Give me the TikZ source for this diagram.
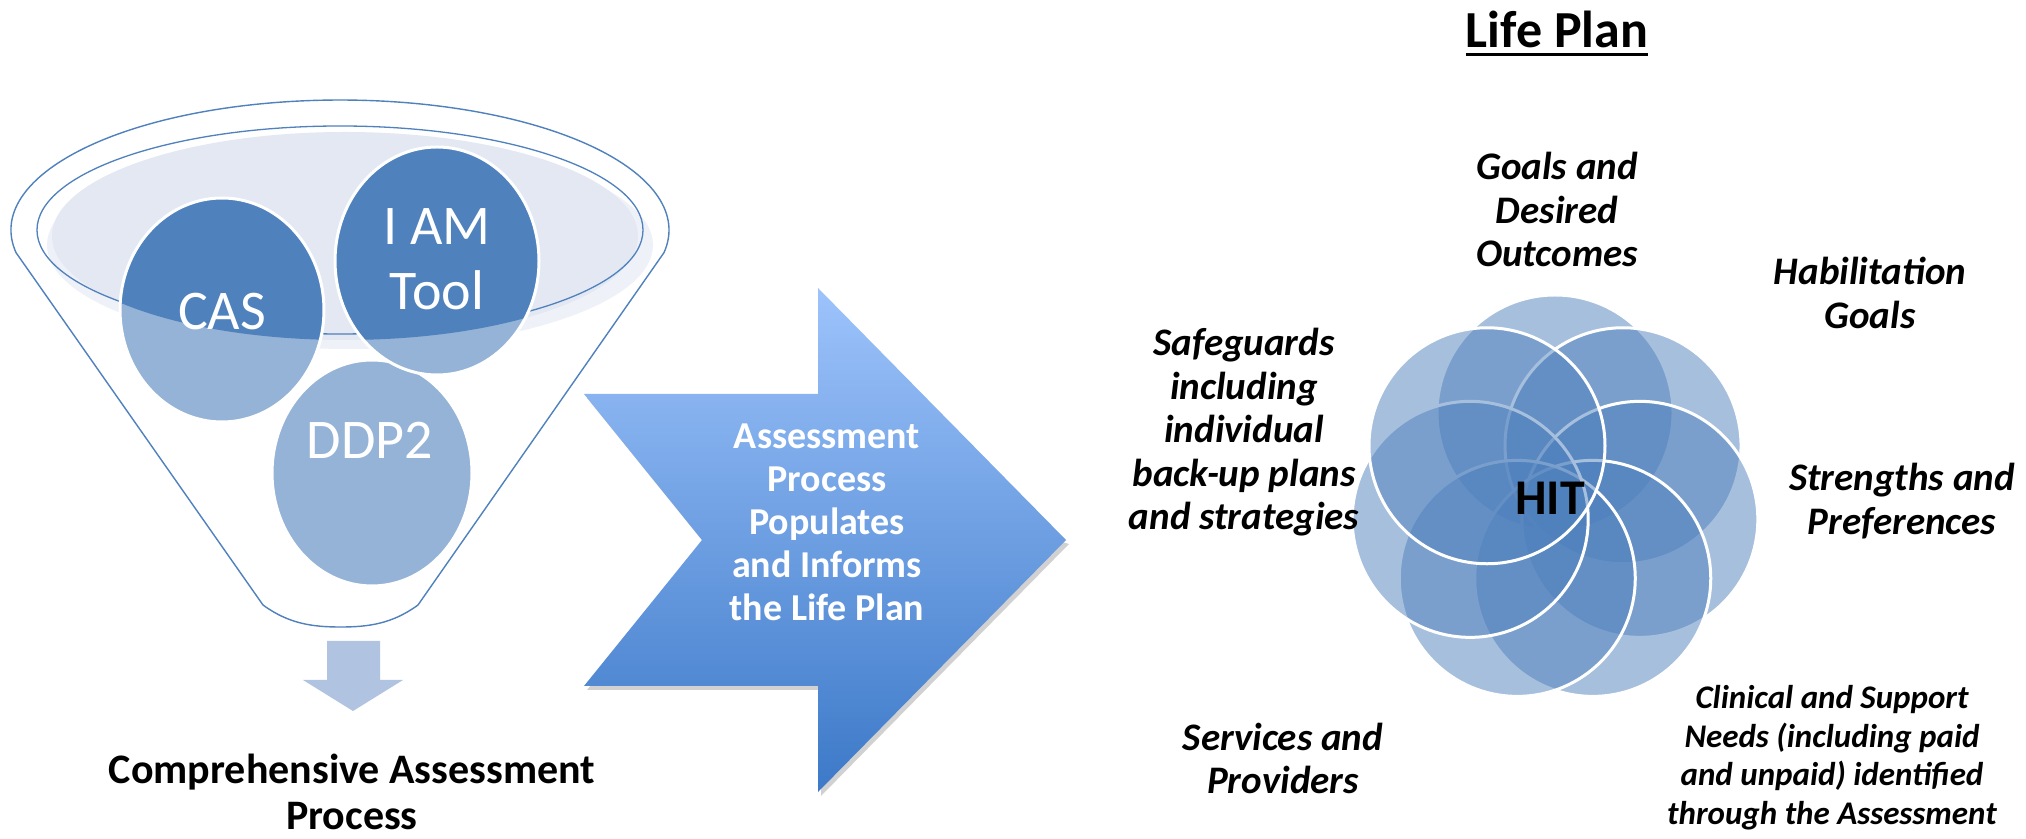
\documentclass[tikz,border=0pt]{standalone}
\usepackage{fontspec}
\setmainfont{Carlito}
\usetikzlibrary{calc}
\definecolor{accent}{HTML}{4F81BD}
\definecolor{accentlt}{HTML}{95B3D7}
\definecolor{funnelfill}{HTML}{E3E8F2}
\definecolor{funnelglow}{HTML}{EEF1F7}
\definecolor{droparrow}{HTML}{B0C3E0}
\definecolor{arrowtop}{HTML}{9DC3FB}
\definecolor{arrowbot}{HTML}{3C79C8}
\begin{document}
\begin{tikzpicture}[x=1pt,y=1pt,
  funnelline/.style={draw=accent, line width=1.4pt, line join=round},
  tooltext/.style={text=white, font=\fontsize{56}{65}\selectfont, align=center, inner sep=0pt},
  petal/.style={fill=accent, fill opacity=0.5, draw=white, draw opacity=1, line width=3pt},
  lbl/.style={font=\fontsize{39}{43.5}\selectfont\bfseries\itshape, align=center, inner sep=0pt, anchor=base},
  smalllbl/.style={font=\fontsize{33}{38.5}\selectfont\bfseries\itshape, align=center, inner sep=0pt, anchor=base},
  ring/.style={draw=white, line width=3pt},
]
\fill[white] (0,0) rectangle (2026,838);
\useasboundingbox (0,0) rectangle (2026,838);

% ---------- funnel ----------
\fill[funnelglow] (350,593) ellipse [x radius=303, y radius=104];
\fill[funnelfill] (345,602) ellipse [x radius=293, y radius=104];
\draw[accent, line width=1.3pt] (340,608) ellipse [x radius=303, y radius=104];
\draw[funnelline] (16,585.4) arc [start angle=190, end angle=-10, x radius=329, y radius=130]
  -- (418,233) .. controls (392,214) and (368,211) .. (340.5,211)
  .. controls (313,211) and (289,214) .. (263,233) -- cycle;

% DDP2
\fill[accentlt] (372,365) ellipse [x radius=100, y radius=113];
\draw[ring] (372,365) ellipse [x radius=100, y radius=113];
% CAS
\begin{scope}
  \fill[accentlt] (222,528) ellipse [x radius=102, y radius=112];
  \clip (345,602) ellipse [x radius=293, y radius=104];
  \fill[accent] (222,528) ellipse [x radius=102, y radius=112];
\end{scope}
\draw[ring] (222,528) ellipse [x radius=102, y radius=112];
% I AM Tool
\begin{scope}
  \fill[accentlt] (437,577) ellipse [x radius=102, y radius=114];
  \clip (345,602) ellipse [x radius=293, y radius=104];
  \fill[accent] (437,577) ellipse [x radius=102, y radius=114];
\end{scope}
\draw[ring] (437,577) ellipse [x radius=102, y radius=114];

\node[tooltext] (cas) at (222,526) {CAS};
\node[tooltext] (iam) at (437,578.5) {I AM\\Tool};
\node[tooltext] (ddp) at (370,398) {DDP2};

% arrow below the funnel
\fill[droparrow] (327,197) -- (380,197) -- (380,158) -- (403,158) -- (353,127)
  -- (303,158) -- (327,158) -- cycle;
\node[font=\fontsize{42}{46}\selectfont\bfseries, align=center, inner sep=0pt, anchor=base]
  (cap) at (352,9) {Comprehensive Assessment\\Process};

% ---------- big arrow ----------
\fill[black, opacity=0.18] ($(584,444)+(3,-4)$) -- ($(702,298)+(3,-4)$) -- ($(584,152)+(3,-4)$)
  -- ($(818,152)+(3,-4)$) -- ($(818,46)+(3,-4)$) -- ($(1066,298)+(3,-4)$) -- cycle;
\shade[top color=arrowtop, bottom color=arrowbot]
  (584,444) -- (818,444) -- (818,550) -- (1066,298) -- (818,46) -- (818,152)
  -- (584,152) -- (702,298) -- cycle;
\node[font=\fontsize{38}{43}\selectfont\bfseries, text=white, align=center, inner sep=0pt, anchor=base]
  (flow) at (827,217) {Assessment\\Process\\Populates\\and Informs\\the Life Plan};

% ---------- life plan ----------
\node[font=\fontsize{52}{60}\selectfont\bfseries, inner sep=0pt, anchor=base] (title) at (1557,790) {Life Plan};
\draw[line width=3pt] ($(title.base west)+(0,-7)$) -- ($(title.base east)+(0,-7)$);

\foreach \k in {0,...,6} {
  \pgfmathsetmacro\ang{90-51.4286*\k}
  \filldraw[petal] ($(1555,338)+(\ang:87)$) circle [radius=118];
}
\node[font=\fontsize{50}{60}\selectfont\bfseries, inner sep=0pt] (hit) at (1550,340) {HIT};

\node[lbl] (goals) at (1557,571) {Goals and\\Desired\\Outcomes};
\node[lbl] (habil) at (1870,509.5) {Habilitation\\Goals};
\node[lbl] (safe) at (1244,308) {Safeguards\\including\\individual\\back-up plans\\and strategies};
\node[lbl] (strength) at (1902,303.5) {Strengths and\\Preferences};
\node[lbl] (services) at (1283,44.5) {Services and\\Providers};
\node[smalllbl] (clinical) at (1832,14) {Clinical and Support\\Needs (including paid\\and unpaid) identified\\through the Assessment};
\end{tikzpicture}
\end{document}
